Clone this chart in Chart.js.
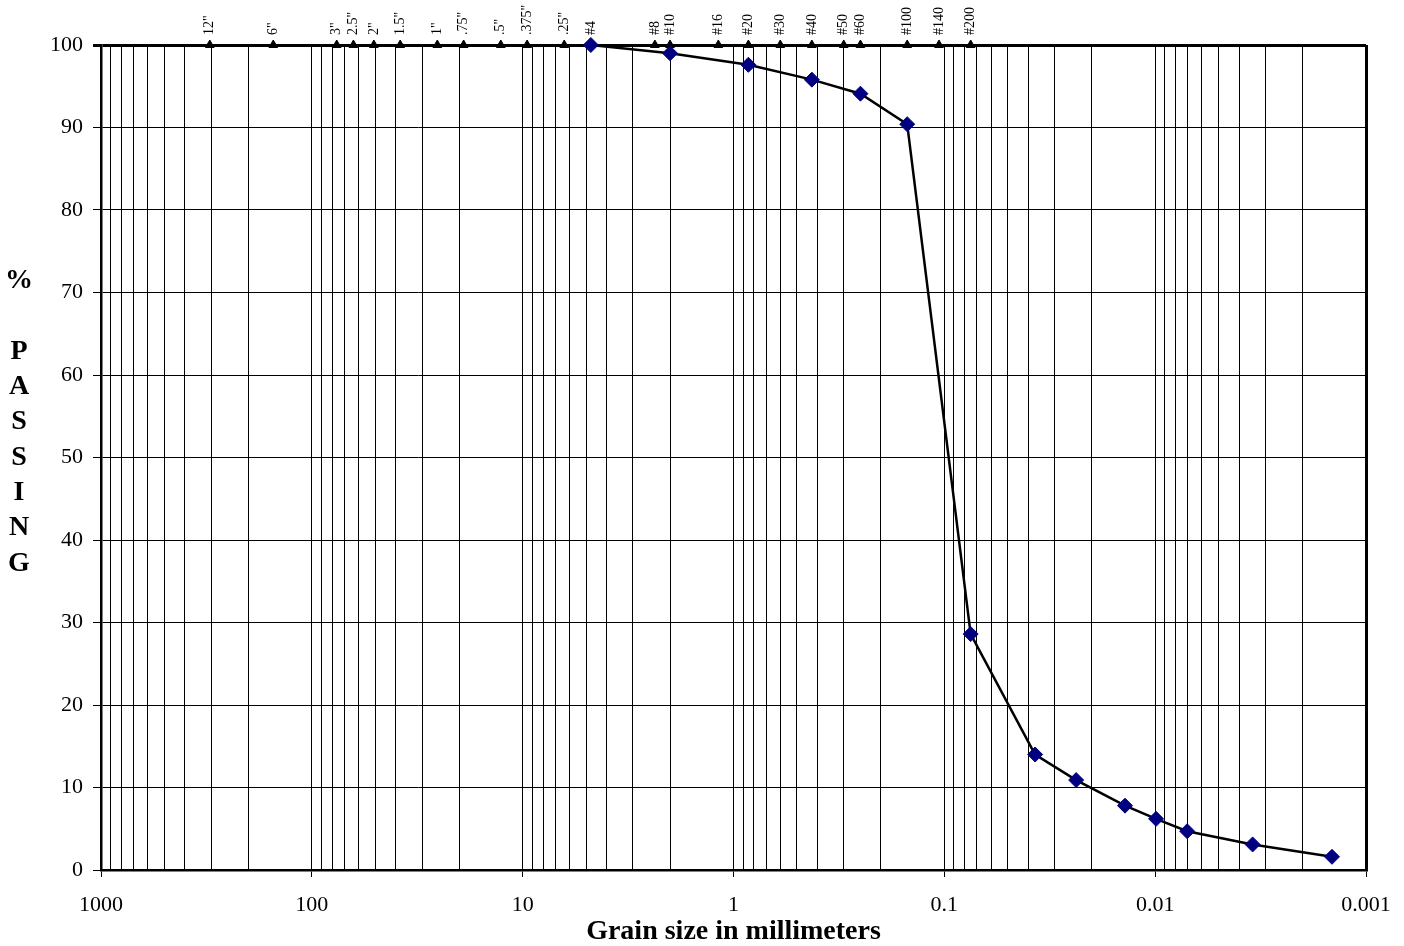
<!DOCTYPE html>
<html><head><meta charset="utf-8">
<script src="https://cdn.jsdelivr.net/npm/chart.js@4/dist/chart.umd.min.js"></script>
<style>html,body{margin:0;padding:0;background:#fff}#wrap{width:1404px;height:946px;position:relative}</style>
</head><body><div id="wrap"><canvas id="c" width="1404" height="946"></canvas></div>
<script>
// Data
const grainSizes = [4.75, 2.0, 0.85, 0.425, 0.25, 0.15, 0.075, 0.0371, 0.0237, 0.0139, 0.0099, 0.00705, 0.00345, 0.00145];
const percentPassing = [100, 99.0, 97.6, 95.8, 94.1, 90.4, 28.6, 14.0, 10.9, 7.8, 6.2, 4.7, 3.1, 1.6];
const sieveLabels = ['12"','6"','3"','2.5"','2"','1.5"','1"','.75"','.5"','.375"','.25"','#4','#8','#10','#16','#20','#30','#40','#50','#60','#100','#140','#200'];
const sieveSizes = [304.8,152.4,76.2,63.5,50.8,38.1,25.4,19.05,12.7,9.525,6.35,4.75,2.36,2.0,1.18,0.85,0.6,0.425,0.3,0.25,0.15,0.106,0.075];
const sieveLevel = [100,100,100,100,100,100,100,100,100,100,100,100,100,100,100,100,100,100,100,100,100,100,100];
const xDecades = [1000, 100, 10, 1, 0.1, 0.01, 0.001];
const xDecadeLabels = ['1000','100','10','1','0.1','0.01','0.001'];
const yTickValues = [0,10,20,30,40,50,60,70,80,90,100];
const xTitle = 'Grain size in millimeters';
const yTitleLines = ['%','','P','A','S','S','I','N','G'];

const SERIF = '"Liberation Serif", "Times New Roman", serif';
Chart.defaults.font.family = SERIF;
Chart.defaults.color = '#000';

function decadeIndex(v){ return xDecades.findIndex(d => Math.abs(v/d - 1) < 1e-6); }

// log grid positions: 1..9 in each decade
const xGridValues = [];
for (let i = xDecades.length - 1; i > 0; i--) {
  const base = xDecades[i];
  for (let k = 1; k <= 9; k++) xGridValues.push(k * base);
}
xGridValues.push(xDecades[0]);

const labelsPlugin = {
  id: 'extraText',
  afterDatasetsDraw(chart) {
    const ctx = chart.ctx, xs = chart.scales.x;
    ctx.save();
    ctx.fillStyle = '#000';
    ctx.font = '14px ' + SERIF;
    ctx.textBaseline = 'middle';
    ctx.textAlign = 'left';
    sieveSizes.forEach((s, i) => {
      const px = xs.getPixelForValue(s);
      ctx.save();
      ctx.translate(px, 35);
      ctx.rotate(-Math.PI / 2);
      ctx.fillText(sieveLabels[i], 0, 0);
      ctx.restore();
    });
    ctx.font = 'bold 28px ' + SERIF;
    ctx.textAlign = 'center';
    yTitleLines.forEach((t, i) => {
      if (t) ctx.fillText(t, 19, 281 + i * 35.3);
    });
    ctx.restore();
  }
};

new Chart(document.getElementById('c'), {
  type: 'scatter',
  data: {
    datasets: [
      {
        data: grainSizes.map((g, i) => ({x: g, y: percentPassing[i]})),
        showLine: true,
        borderColor: '#000',
        borderWidth: 2.5,
        tension: 0,
        pointStyle: 'rectRot',
        pointRadius: 7.5,
        pointBackgroundColor: '#000080',
        pointBorderColor: '#000080',
        pointBorderWidth: 1,
        clip: false
      },
      {
        data: sieveSizes.map((s, i) => ({x: s, y: sieveLevel[i]})),
        showLine: false,
        pointStyle: 'triangle',
        pointRadius: 5,
        pointBackgroundColor: '#000',
        pointBorderColor: '#000',
        pointBorderWidth: 1,
        clip: false
      }
    ]
  },
  options: {
    responsive: false,
    animation: false,
    layout: {padding: {top: 45, right: 38, left: 0, bottom: 0}},
    plugins: {legend: {display: false}, tooltip: {enabled: false}},
    scales: {
      x: {
        type: 'logarithmic',
        reverse: true,
        min: 0.001,
        max: 1000,
        afterFit(scale) { scale.height = 76; },
        afterBuildTicks(scale) { scale.ticks = xGridValues.map(v => ({value: v})); },
        ticks: {
          autoSkip: false,
          maxRotation: 0,
          padding: 15,
          font: {size: 22, family: SERIF},
          color: '#000',
          callback(v) { const i = decadeIndex(v); return i >= 0 ? xDecadeLabels[i] : ''; }
        },
        grid: {
          color: '#000',
          lineWidth(ctx) { return (ctx.tick && Math.abs(ctx.tick.value / 0.001 - 1) < 1e-6) ? 3 : 1; },
          tickLength: 7,
          tickColor(ctx) { return (ctx.tick && decadeIndex(ctx.tick.value) >= 0) ? '#000' : 'rgba(0,0,0,0)'; },
          tickWidth: 1
        },
        border: {display: true, color: '#000', width: 2.5},
        title: {display: true, text: xTitle, font: {size: 28, weight: 'bold', family: SERIF}, color: '#000', padding: {top: 0, bottom: -3}}
      },
      y: {
        min: 0,
        max: 100,
        afterFit(scale) { scale.width = 101; },
        afterBuildTicks(scale) { scale.ticks = yTickValues.map(v => ({value: v})); },
        ticks: {
          padding: 10,
          font: {size: 22, family: SERIF},
          color: '#000'
        },
        grid: {
          color: '#000',
          lineWidth(ctx) { return (ctx.tick && ctx.tick.value === 100) ? 3 : 1; },
          tickLength: 8,
          tickColor: '#000'
        },
        border: {display: true, color: '#000', width: 2.5}
      }
    }
  },
  plugins: [labelsPlugin]
});
</script></body></html>
